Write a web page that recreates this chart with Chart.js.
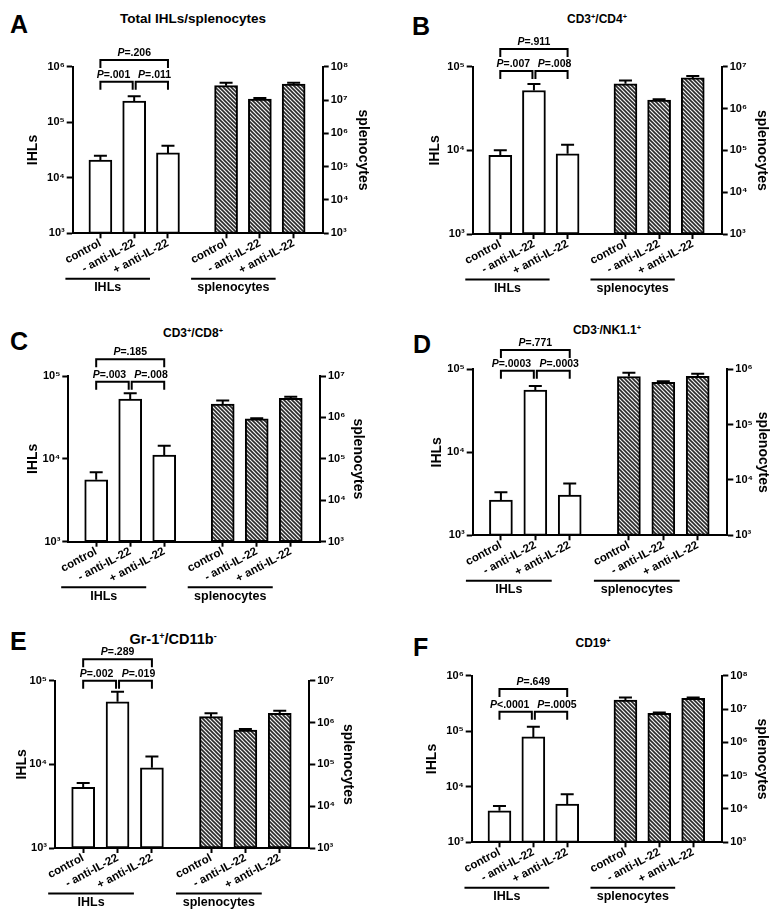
<!DOCTYPE html>
<html>
<head>
<meta charset="utf-8">
<script src="https://cdn.jsdelivr.net/npm/chart.js@4.4.1/dist/chart.umd.min.js"></script>
<style>
  body { margin: 0; background: #fff; font-family: "Liberation Sans", Arial, sans-serif; }
  #fig { position: relative; width: 781px; height: 917px; overflow: hidden; }
  canvas { position: absolute; }
  .letter { position: absolute; font-weight: bold; font-size: 25px; line-height: 1; color: #000; }
  .title { position: absolute; transform: translate(-50%, -50%); font-weight: bold; line-height: 1; white-space: nowrap; color: #000; }
  .title sup { font-size: 0.62em; vertical-align: 0.5em; line-height: 0; }
</style>
</head>
<body>
<div id="fig"></div>
<script>
// bar positions on the x axis (3 IHL bars, gap, 3 splenocyte bars)
const slots = [0, 1, 2, 3.72, 4.72, 5.72];
const groupNames = ['control', '- anti-IL-22', '+ anti-IL-22'];

// decade tick sets
const ticks3to5 = [1e3, 1e4, 1e5];
const ticks3to6 = [1e3, 1e4, 1e5, 1e6];
const ticks3to7 = [1e3, 1e4, 1e5, 1e6, 1e7];
const ticks3to8 = [1e3, 1e4, 1e5, 1e6, 1e7, 1e8];

// A - Total IHLs/splenocytes
const ihlA = [2.08e4, 2.4e5, 2.8e4];
const ihlErrA = [2.49e4, 2.95e5, 3.77e4];
const splA = [2.7e7, 1.07e7, 3.0e7];
const splErrA = [3.3e7, 1.15e7, 3.3e7];
const pA = ['=.001', '=.011', '=.206'];

// B - CD3+/CD4+
const ihlB = [8.7e3, 5.2e4, 9.1e3];
const ihlErrB = [1.0e4, 6.2e4, 1.17e4];
const splB = [3.9e6, 1.6e6, 5.4e6];
const splErrB = [4.7e6, 1.66e6, 6.0e6];
const pB = ['=.007', '=.008', '=.911'];

// C - CD3+/CD8+
const ihlC = [5.6e3, 5.25e4, 1.11e4];
const ihlErrC = [6.9e3, 6.2e4, 1.44e4];
const splC = [2.1e6, 9.2e5, 2.9e6];
const splErrC = [2.57e6, 9.6e5, 3.15e6];
const pC = ['=.003', '=.008', '=.185'];

// D - CD3-/NK1.1+
const ihlD = [2.66e3, 5.6e4, 3.06e3];
const ihlErrD = [3.3e3, 6.3e4, 4.2e3];
const splD = [7.4e5, 5.8e5, 7.5e5];
const splErrD = [8.7e5, 6.1e5, 8.3e5];
const pD = ['=.0003', '=.0003', '=.771'];

// E - Gr-1+/CD11b-
const ihlE = [5.3e3, 5.6e4, 9.1e3];
const ihlErrE = [6.0e3, 7.4e4, 1.24e4];
const splE = [1.38e6, 6.6e5, 1.66e6];
const splErrE = [1.66e6, 7.0e5, 1.9e6];
const pE = ['=.002', '=.019', '=.289'];

// F - CD19+
const ihlF = [3.7e3, 7.9e4, 4.9e3];
const ihlErrF = [4.5e3, 1.2e5, 7.3e3];
const splF = [1.86e7, 7.4e6, 2.1e7];
const splErrF = [2.2e7, 7.9e6, 2.2e7];
const pF = ['<.0001', '=.0005', '=.649'];

const FONT = '"Liberation Sans", Arial, sans-serif';
Chart.defaults.font.family = FONT;
Chart.defaults.color = '#000';

const EXTRA = 20; // canvases reach a bit below their row so group labels are not cut

// panel layout (pixels)
const panels = [
  { letter: 'A', title: 'Total IHLs/splenocytes', tSize: 13.5, tx: 193, ty: 19, lx: 10, ly: 12,
    col: 0, row: 0, h: 300, pad: 66.7, hx: 66.7, w1: 72.7, w2: 67.3, lt: 24.9, rt: 18.6, br: [-6.7, 15],
    ihl: ihlA, ihlErr: ihlErrA, spl: splA, splErr: splErrA, p: pA, lTicks: ticks3to6, rTicks: ticks3to8 },
  { letter: 'B', title: 'CD3<sup>+</sup>/CD4<sup>+</sup>', tSize: 12, tx: 597, ty: 19, lx: 412, ly: 14,
    col: 1, row: 0, h: 300, pad: 66.7, hx: 66, w1: 82.7, w2: 59.3, lt: 36.6, rt: 10.6, br: [-17.7, 4.3],
    ihl: ihlB, ihlErr: ihlErrB, spl: splB, splErr: splErrB, p: pB, lTicks: ticks3to5, rTicks: ticks3to7 },
  { letter: 'C', title: 'CD3<sup>+</sup>/CD8<sup>+</sup>', tSize: 12, tx: 193, ty: 333, lx: 10, ly: 329,
    col: 0, row: 1, h: 300, pad: 76, hx: 58.3, w1: 68.3, w2: 70, lt: 24.9, rt: 23.6, br: [-16.7, 5.7],
    ihl: ihlC, ihlErr: ihlErrC, spl: splC, splErr: splErrC, p: pC, lTicks: ticks3to5, rTicks: ticks3to7 },
  { letter: 'D', title: 'CD3<sup>-</sup>/NK1.1<sup>+</sup>', tSize: 12, tx: 607, ty: 330, lx: 413, ly: 332,
    col: 1, row: 1, h: 300, pad: 69.3, hx: 64.7, w1: 82.7, w2: 53.7, lt: 38.3, rt: 9.3, br: [-19.3, 1.4],
    ihl: ihlD, ihlErr: ihlErrD, spl: splD, splErr: splErrD, p: pD, lTicks: ticks3to5, rTicks: ticks3to6 },
  { letter: 'E', title: 'Gr-1<sup>+</sup>/CD11b<sup>-</sup>', tSize: 14.5, tx: 173, ty: 639, lx: 10, ly: 629,
    col: 0, row: 2, h: 317, pad: 80.7, hx: 69, w1: 55, w2: 80.7, lt: 13.3, rt: 33.3, br: [-21.4, 0],
    ihl: ihlE, ihlErr: ihlErrE, spl: splE, splErr: splErrE, p: pE, lTicks: ticks3to5, rTicks: ticks3to7 },
  { letter: 'F', title: 'CD19<sup>+</sup>', tSize: 12, tx: 593, ty: 643, lx: 413, ly: 635,
    col: 1, row: 2, h: 317, pad: 75.7, hx: 74.7, w1: 81.7, w2: 58.7, lt: 33.3, rt: 10.6, br: [13.3, 36],
    ihl: ihlF, ihlErr: ihlErrF, spl: splF, splErr: splErrF, p: pF, lTicks: ticks3to6, rTicks: ticks3to8 }
];

const supDigits = { '3': '\u00B3', '4': '\u2074', '5': '\u2075', '6': '\u2076', '7': '\u2077', '8': '\u2078' };
function decadeLabel(v) {
  return '10' + supDigits[String(Math.round(Math.log10(v)))];
}

// diagonal hatch for the splenocyte bars
function hatch() {
  const s = 4;
  const c = document.createElement('canvas');
  c.width = s; c.height = s;
  const g = c.getContext('2d');
  g.fillStyle = '#f4f4f4';
  g.fillRect(0, 0, s, s);
  g.strokeStyle = '#2a2a2a';
  g.lineWidth = 1.6;
  for (const k of [-s, 0, s]) {
    g.beginPath();
    g.moveTo(k - 1, -1);
    g.lineTo(k + s + 1, s + 1);
    g.stroke();
  }
  return g.createPattern(c, 'repeat');
}

const P_FONT = 'bold 10.5px ' + FONT;
const P_FONT_IT = 'italic bold 10.5px ' + FONT;

function pWidth(ctx, rest) {
  ctx.font = P_FONT_IT;
  const wP = ctx.measureText('P').width;
  ctx.font = P_FONT;
  return wP + ctx.measureText(rest).width;
}

function pText(ctx, cx, cy, rest) {
  ctx.font = P_FONT_IT;
  const wP = ctx.measureText('P').width;
  const x0 = cx - pWidth(ctx, rest) / 2;
  ctx.textAlign = 'left';
  ctx.textBaseline = 'middle';
  ctx.font = P_FONT_IT;
  ctx.fillText('P', x0, cy);
  ctx.font = P_FONT;
  ctx.fillText(rest, x0 + wP, cy);
}

// error-bar tops and bracket settings, looked up per canvas
const errTops = new Map();
const marks = new Map();

// error bars, significance brackets and group labels
const figureMarks = {
  id: 'figureMarks',
  afterDatasetsDraw(chart) {
    const ctx = chart.ctx;
    const errs = errTops.get(chart.canvas);
    ctx.save();
    ctx.strokeStyle = '#000';
    ctx.lineWidth = 2;
    chart.data.datasets.forEach((ds, di) => {
      const meta = chart.getDatasetMeta(di);
      const scale = chart.scales[meta.yAxisID];
      meta.data.forEach((bar, i) => {
        const top = scale.getPixelForValue(errs[di][i]);
        ctx.beginPath();
        ctx.moveTo(bar.x, bar.y);
        ctx.lineTo(bar.x, top);
        ctx.moveTo(bar.x - 6.5, top);
        ctx.lineTo(bar.x + 6.5, top);
        ctx.stroke();
      });
    });
    ctx.restore();
  },
  afterDraw(chart) {
    const opts = marks.get(chart.canvas);
    const ctx = chart.ctx;
    const xs = chart.scales.x;
    const x = i => xs.getPixelForValue(slots[i]);
    const area = chart.chartArea;
    const yUp = area.top + opts.br[0];
    const yLow = area.top + opts.br[1];
    const leg = 8;
    ctx.save();
    ctx.strokeStyle = '#000';
    ctx.fillStyle = '#000';
    ctx.lineWidth = 2;
    const bracket = (x1, x2, y) => {
      ctx.beginPath();
      ctx.moveTo(x1, y + leg);
      ctx.lineTo(x1, y);
      ctx.lineTo(x2, y);
      ctx.lineTo(x2, y + leg);
      ctx.stroke();
    };
    bracket(x(0), x(2), yUp);
    bracket(x(0), x(1) - 1.5, yLow);
    bracket(x(1) + 1.5, x(2), yLow);
    // the two inner labels are pushed apart a little, as in the figure
    const s0 = 2 + Math.max(0, (pWidth(ctx, opts.p[0]) - 30) / 2);
    const s1 = 2 + Math.max(0, (pWidth(ctx, opts.p[1]) - 30) / 2);
    pText(ctx, (x(0) + x(1)) / 2 - s0, yLow - 7, opts.p[0]);
    pText(ctx, (x(1) + x(2)) / 2 + s1, yLow - 7, opts.p[1]);
    pText(ctx, (x(0) + x(2)) / 2, yUp - 7, opts.p[2]);

    // group underlines
    const yl = area.bottom + 45.5;
    ctx.font = 'bold 12.5px ' + FONT;
    ctx.textAlign = 'center';
    ctx.textBaseline = 'middle';
    [[0, 2, 'IHLs'], [3, 5, 'splenocytes']].forEach(([a, b, name]) => {
      const x1 = x(a) - 35, x2 = x(b) - 18;
      ctx.beginPath();
      ctx.moveTo(x1, yl);
      ctx.lineTo(x2, yl);
      ctx.stroke();
      ctx.fillText(name, (x1 + x2) / 2, yl + 9);
    });
    ctx.restore();
  }
};

function yAxis(pos, ticks, title, titlePad, width) {
  return {
    type: 'logarithmic',
    position: pos,
    min: ticks[0],
    max: ticks[ticks.length - 1],
    afterBuildTicks: s => { s.ticks = ticks.map(v => ({ value: v })); },
    afterFit: s => { s.width = width; },
    border: { display: true, color: '#000', width: 2 },
    grid: { drawOnChartArea: false, drawTicks: true, tickLength: 6, tickWidth: 2, tickColor: '#000' },
    ticks: { autoSkip: false, padding: 2, font: { size: 11, weight: 'bold' }, callback: v => decadeLabel(v) },
    title: { display: true, text: title, font: { size: 14, weight: 'bold' }, padding: { top: titlePad, bottom: 0 } }
  };
}

const fig = document.getElementById('fig');

panels.forEach(p => {
  const letter = document.createElement('div');
  letter.className = 'letter';
  letter.style.left = p.lx + 'px';
  letter.style.top = p.ly + 'px';
  letter.textContent = p.letter;
  fig.appendChild(letter);

  const title = document.createElement('div');
  title.className = 'title';
  title.style.left = p.tx + 'px';
  title.style.top = p.ty + 'px';
  title.style.fontSize = p.tSize + 'px';
  title.innerHTML = p.title;
  fig.appendChild(title);

  const w = p.col ? 391 : 390;
  const canvas = document.createElement('canvas');
  canvas.width = w;
  canvas.height = p.h + EXTRA;
  canvas.style.left = (p.col * 390) + 'px';
  canvas.style.top = (p.row * 300) + 'px';
  fig.appendChild(canvas);

  errTops.set(canvas, [p.ihlErr, p.splErr]);
  marks.set(canvas, { br: p.br, p: p.p });

  new Chart(canvas, {
    type: 'bar',
    data: {
      datasets: [
        {
          label: 'IHLs',
          data: p.ihl.map((v, i) => ({ x: slots[i], y: v })),
          yAxisID: 'y',
          backgroundColor: '#fff',
          borderColor: '#000',
          borderWidth: 2,
          borderSkipped: false,
          barThickness: 23,
          grouped: false
        },
        {
          label: 'splenocytes',
          data: p.spl.map((v, i) => ({ x: slots[i + 3], y: v })),
          yAxisID: 'y2',
          backgroundColor: hatch(),
          borderColor: '#000',
          borderWidth: 2,
          borderSkipped: false,
          barThickness: 23,
          grouped: false
        }
      ]
    },
    options: {
      responsive: false,
      animation: false,
      layout: { padding: { top: p.pad, left: 0, right: 0, bottom: 0 } },
      plugins: {
        legend: { display: false },
        tooltip: { enabled: false }
      },
      scales: {
        x: {
          type: 'linear',
          min: -0.82,
          max: 6.58,
          offset: false,
          afterBuildTicks: s => { s.ticks = slots.map(v => ({ value: v })); },
          afterFit: s => { s.height = p.hx + EXTRA; },
          border: { display: true, color: '#000', width: 2 },
          grid: { offset: false, drawOnChartArea: false, drawTicks: true, tickLength: 5, tickWidth: 2, tickColor: '#000' },
          ticks: {
            autoSkip: false,
            minRotation: 28,
            maxRotation: 28,
            padding: -2,
            font: { size: 11.5, weight: 'bold' },
            callback: (v, i) => groupNames[i % 3]
          }
        },
        y: yAxis('left', p.lTicks, 'IHLs', p.lt, p.w1),
        y2: yAxis('right', p.rTicks, 'splenocytes', p.rt, p.w2)
      }
    },
    plugins: [figureMarks]
  });
});
</script>
</body>
</html>
